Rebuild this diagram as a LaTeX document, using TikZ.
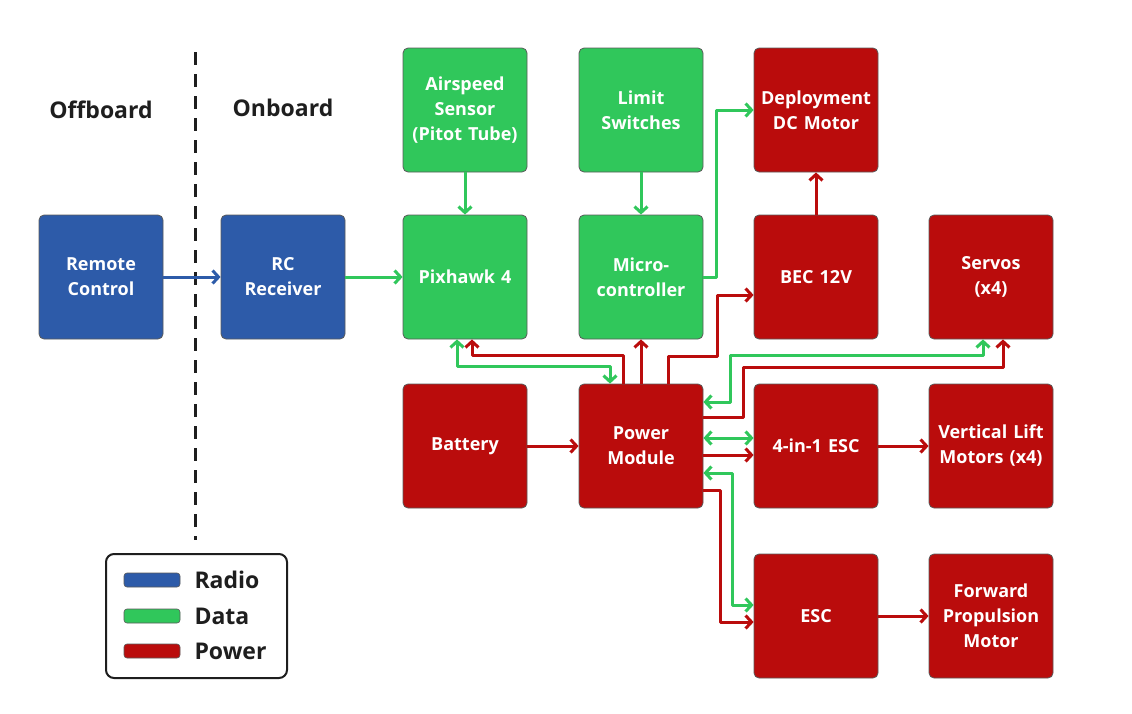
\documentclass[tikz,border=0pt]{standalone}
\usepackage{fontspec}
\setmainfont{Open Sans}
\usepackage{tikz}
\usetikzlibrary{arrows.meta,positioning,calc}
\definecolor{radioblue}{HTML}{2D5BA9}
\definecolor{datagreen}{HTML}{30C75B}
\definecolor{powerred}{HTML}{BA0C0C}
\definecolor{edgegray}{HTML}{5A5A5A}
\definecolor{inkblack}{HTML}{1E1E1E}
\tikzset{
  unit/.style={
    rounded corners=5pt,draw=edgegray,line width=.8pt,
    minimum width=124pt,minimum height=124pt,inner sep=0pt,
    text width=122pt,align=center,text=white,
    font=\bfseries\fontsize{18}{25}\selectfont
  },
  radiobox/.style={unit,fill=radioblue},
  databox/.style={unit,fill=datagreen},
  powerbox/.style={unit,fill=powerred},
  header/.style={text=inkblack,font=\bfseries\fontsize{23}{26}\selectfont},
  link/.style={line width=3pt,line join=round,
    -{Straight Barb[length=6pt,width=13pt]}},
  twoway/.style={line width=3pt,line join=round,
    {Straight Barb[length=6pt,width=13pt]}-{Straight Barb[length=6pt,width=13pt]}},
  radio/.style={link,draw=radioblue},
  data/.style={link,draw=datagreen},
  datatwo/.style={twoway,draw=datagreen},
  power/.style={link,draw=powerred},
  divider/.style={draw=inkblack,line width=3pt,dash pattern=on 13pt off 9pt},
  legendbox/.style={rounded corners=8pt,draw=inkblack,line width=2pt,fill=white,
    minimum width=181pt,minimum height=124pt},
  swatch/.style={rounded corners=3pt,draw=edgegray,line width=.6pt,
    minimum width=56pt,minimum height=14pt,inner sep=0pt},
  legendtext/.style={anchor=west,text=inkblack,font=\bfseries\fontsize{23}{26}\selectfont}
}
\begin{document}
\begin{tikzpicture}[x=1pt,y=-1pt]
\useasboundingbox (0,0) rectangle (1132,713);

% offboard / onboard split
\node[header] (offboard) at (101,110) {Offboard};
\node[header] (onboard) at (283,108) {Onboard};
\coordinate (divtop) at (195,52);
\coordinate (divbot) at (195,540);
\draw[divider] (divtop) -- (divbot);

% units
\node[radiobox] (remote) at (101,277) {Remote\\Control};
\node[radiobox] (rcrx) at (283,277) {RC\\Receiver};
\node[databox] (airspeed) at (465,110) {Airspeed\\Sensor\\(Pitot Tube)};
\node[databox] (pix) at (465,277) {Pixhawk 4};
\node[databox] (limits) at (641,110) {Limit\\Switches};
\node[databox] (micro) at (641,277) {Micro-\\controller};
\node[powerbox] (deploy) at (816,110) {Deployment\\DC Motor};
\node[powerbox] (bec) at (816,277) {BEC 12V};
\node[powerbox] (servo) at (991,277) {Servos\\(x4)};
\node[powerbox] (battery) at (465,446) {Battery};
\node[powerbox] (pwr) at (641,446) {Power\\Module};
\node[powerbox] (esc4) at (816,446) {4-in-1 ESC};
\node[powerbox] (lift) at (991,446) {Vertical Lift\\Motors (x4)};
\node[powerbox] (esc) at (816,616) {ESC};
\node[powerbox] (fwd) at (991,616) {Forward\\Propulsion\\Motor};

% radio and data links
\draw[radio] (remote) -- (rcrx);
\draw[data] (rcrx) -- (pix);
\draw[data] (airspeed) -- (pix);
\draw[data] (limits) -- (micro);
\draw[data] (micro.east) -- ++(13,0) |- (deploy.west);
\draw[datatwo] ($(pix.south)+(-8,0)$) |- ($(pwr.north)+(-31,-17)$) -- ($(pwr.north)+(-31,0)$);
\draw[datatwo] ($(pwr.east)+(0,-44)$) -- ++(27,0) |- ($(servo.south)+(-8,16)$) -- ($(servo.south)+(-8,0)$);
\draw[datatwo] ($(pwr.east)+(0,-8)$) -- ($(esc4.west)+(0,-8)$);
\draw[datatwo] ($(pwr.east)+(0,27)$) -- ++(29,0) |- ($(esc.west)+(0,-11)$);

% power links
\draw[power] (bec) -- (deploy);
\draw[power] (pwr) -- (micro);
\draw[power] ($(pwr.north)+(27,0)$) |- ($(pwr.north)+(76,-27)$) |- ($(bec.west)+(0,18)$);
\draw[power] ($(pwr.north)+(-18,0)$) |- ($(pix.south)+(7,16)$) -- ($(pix.south)+(7,0)$);
\draw[power] ($(pwr.east)+(0,-29)$) -- ++(40,0) |- ($(servo.south)+(12,28)$) -- ($(servo.south)+(12,0)$);
\draw[power] ($(pwr.east)+(0,9)$) -- ($(esc4.west)+(0,9)$);
\draw[power] ($(pwr.east)+(0,44)$) -- ++(17,0) |- ($(esc.west)+(0,6)$);
\draw[power] (battery) -- (pwr);
\draw[power] (esc4) -- (lift);
\draw[power] (esc) -- (fwd);

% legend
\node[legendbox] (legend) at (196.5,616) {};
\node[swatch,fill=radioblue] (swradio) at (152,580) {};
\node[swatch,fill=datagreen] (swdata) at (152,616) {};
\node[swatch,fill=powerred] (swpower) at (152,651) {};
\node[legendtext] (txradio) at (191,580) {Radio};
\node[legendtext] (txdata) at (191,616) {Data};
\node[legendtext] (txpower) at (191,651) {Power};
\end{tikzpicture}
\end{document}
